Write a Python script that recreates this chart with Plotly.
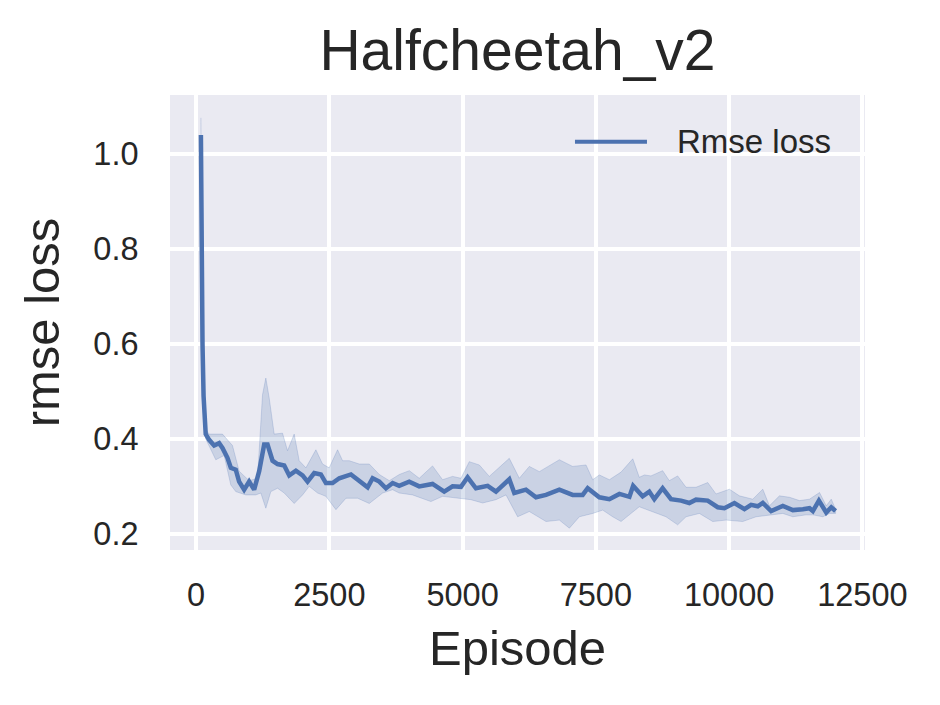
import plotly.graph_objects as go

# ---- data ----
episode_mean = [90, 100, 120, 140, 160, 180, 244, 338, 432, 494, 588, 651, 744, 807, 901, 995,
                1089, 1183, 1277, 1340, 1434, 1528, 1653, 1747, 1872, 1997, 2091, 2216, 2341,
                2435, 2560, 2686, 2905, 3061, 3218, 3312, 3437, 3562, 3687, 3810, 3998, 4186,
                4436, 4655, 4812, 4969, 5094, 5250, 5470, 5626, 5876, 5970, 6189, 6377, 6565,
                6815, 7065, 7253, 7347, 7566, 7754, 7942, 8130, 8200, 8378, 8503, 8597, 8753,
                8910, 9098, 9254, 9379, 9599, 9787, 9912, 10100, 10288, 10413, 10538, 10632,
                10789, 11008, 11196, 11384, 11509, 11572, 11685, 11823, 11917, 11998]
rmse_mean = [1.04, 0.81, 0.60, 0.49, 0.44, 0.41, 0.398, 0.386, 0.391, 0.381, 0.360, 0.339, 0.335,
             0.310, 0.293, 0.310, 0.293, 0.332, 0.388, 0.388, 0.354, 0.347, 0.344, 0.323, 0.333,
             0.323, 0.310, 0.328, 0.325, 0.307, 0.307, 0.317, 0.325, 0.310, 0.298, 0.317, 0.310,
             0.296, 0.307, 0.301, 0.310, 0.300, 0.305, 0.289, 0.300, 0.299, 0.319, 0.296, 0.301,
             0.289, 0.315, 0.286, 0.293, 0.277, 0.282, 0.293, 0.282, 0.282, 0.296, 0.277, 0.273,
             0.284, 0.278, 0.301, 0.279, 0.289, 0.273, 0.296, 0.273, 0.270, 0.265, 0.272, 0.270,
             0.256, 0.254, 0.265, 0.252, 0.261, 0.258, 0.265, 0.248, 0.259, 0.250, 0.252, 0.254,
             0.248, 0.270, 0.245, 0.256, 0.248]

episode_upper = [90, 100, 120, 140, 160, 180, 244, 369, 494, 682, 807, 995, 1152, 1246, 1308, 1371,
                 1465, 1621, 1715, 1840, 1934, 2060, 2247, 2372, 2497, 2654, 2748, 2873, 3061,
                 3249, 3437, 3625, 3813, 4000, 4186, 4436, 4624, 4812, 4969, 5125, 5313, 5501,
                 5876, 6064, 6252, 6440, 6815, 7065, 7316, 7441, 7566, 7754, 7973, 8193, 8315,
                 8412, 8534, 8753, 8878, 9035, 9192, 9379, 9599, 9755, 10006, 10194, 10444,
                 10632, 10757, 10945, 11133, 11321, 11509, 11697, 11823, 11917, 11998]
rmse_upper = [1.076, 0.83, 0.62, 0.50, 0.45, 0.42, 0.41, 0.41, 0.41, 0.386, 0.332, 0.312, 0.317,
              0.493, 0.528, 0.486, 0.41, 0.412, 0.375, 0.41, 0.354, 0.339, 0.377, 0.347, 0.339,
              0.377, 0.354, 0.354, 0.347, 0.347, 0.325, 0.312, 0.325, 0.333, 0.317, 0.343, 0.314,
              0.321, 0.317, 0.352, 0.345, 0.321, 0.359, 0.317, 0.342, 0.331, 0.356, 0.342, 0.345,
              0.314, 0.324, 0.314, 0.330, 0.358, 0.319, 0.324, 0.322, 0.333, 0.312, 0.322, 0.298,
              0.298, 0.308, 0.284, 0.294, 0.280, 0.273, 0.294, 0.259, 0.280, 0.277, 0.270, 0.273,
              0.287, 0.259, 0.273, 0.252]

episode_lower = [90, 100, 120, 140, 160, 180, 244, 369, 526, 651, 744, 932, 1120, 1214, 1308, 1402,
                 1528, 1653, 1840, 1997, 2122, 2279, 2435, 2623, 2811, 3030, 3249, 3500, 3687,
                 3810, 4061, 4405, 4624, 4969, 5156, 5376, 5626, 5814, 6033, 6252, 6565, 6815,
                 7003, 7191, 7441, 7629, 7816, 7973, 8127, 8315, 8566, 8816, 9035, 9192, 9442,
                 9693, 9943, 10256, 10507, 10757, 11008, 11196, 11446, 11572, 11760, 11885, 11998]
rmse_lower = [1.00, 0.79, 0.58, 0.48, 0.43, 0.40, 0.385, 0.356, 0.365, 0.303, 0.289, 0.282, 0.282,
              0.286, 0.254, 0.289, 0.296, 0.286, 0.264, 0.282, 0.300, 0.286, 0.279, 0.251, 0.275,
              0.275, 0.264, 0.286, 0.293, 0.286, 0.282, 0.268, 0.279, 0.275, 0.272, 0.265, 0.272,
              0.282, 0.236, 0.247, 0.226, 0.229, 0.212, 0.236, 0.243, 0.250, 0.236, 0.226, 0.240,
              0.257, 0.247, 0.236, 0.219, 0.236, 0.243, 0.226, 0.229, 0.226, 0.236, 0.240, 0.243,
              0.236, 0.240, 0.240, 0.236, 0.243, 0.243]

x_ticks = [0, 2500, 5000, 7500, 10000, 12500]
y_ticks = [0.2, 0.4, 0.6, 0.8, 1.0]

TITLE = "Halfcheetah_v2"
X_LABEL = "Episode"
Y_LABEL = "rmse loss"
SERIES = "Rmse loss"

BLUE = "#4C72B0"
FONT = "Liberation Sans, Arial, sans-serif"
TEXT = "#262626"

fig = go.Figure()

band_x = episode_upper + episode_lower[::-1]
band_y = rmse_upper + rmse_lower[::-1]
fig.add_trace(go.Scatter(
    x=band_x, y=band_y, mode="lines", fill="toself",
    fillcolor="rgba(76,114,176,0.2)",
    line=dict(color="rgba(76,114,176,0.22)", width=1),
    hoverinfo="skip", showlegend=False))

fig.add_trace(go.Scatter(
    x=episode_mean, y=rmse_mean, mode="lines", name=SERIES,
    line=dict(color=BLUE, width=4.5), showlegend=False))

# legend (no frame, as in seaborn darkgrid)
fig.add_shape(type="line", xref="paper", yref="paper",
              x0=0.5827, x1=0.6863, y0=0.8974, y1=0.8974,
              line=dict(color=BLUE, width=4))
fig.add_annotation(text=SERIES, xref="paper", yref="paper", x=0.7266, y=0.8974,
                   xanchor="left", yanchor="middle", showarrow=False,
                   font=dict(family=FONT, size=33, color=TEXT))

fig.update_layout(
    width=940, height=705, autosize=False,
    margin=dict(l=162, r=83, t=87, b=163),
    paper_bgcolor="white", plot_bgcolor="#EAEAF2",
    font=dict(family=FONT, color=TEXT),
    title=dict(text=TITLE, x=0.5, xref="paper", xanchor="center",
               y=1 - 42 / 705, yref="container", yanchor="middle",
               font=dict(family=FONT, size=57, color=TEXT)),
)
fig.update_xaxes(
    range=[-490, 12550], tickvals=x_ticks, ticktext=[str(v) for v in x_ticks],
    showgrid=True, gridcolor="white", gridwidth=4, zeroline=False, showline=False,
    ticks="outside", ticklen=16, tickcolor="rgba(0,0,0,0)",
    tickfont=dict(family=FONT, size=32.5, color=TEXT),
    title=dict(text=X_LABEL, font=dict(family=FONT, size=49, color=TEXT), standoff=18),
)
fig.update_yaxes(
    range=[0.166, 1.124], tickvals=y_ticks, ticktext=["%.1f" % v for v in y_ticks],
    showgrid=True, gridcolor="white", gridwidth=4, zeroline=False, showline=False,
    ticks="outside", ticklen=24, tickcolor="rgba(0,0,0,0)",
    tickfont=dict(family=FONT, size=32.5, color=TEXT),
    title=dict(text=Y_LABEL, font=dict(family=FONT, size=49, color=TEXT), standoff=18),
)

fig.write_html("out.html")
